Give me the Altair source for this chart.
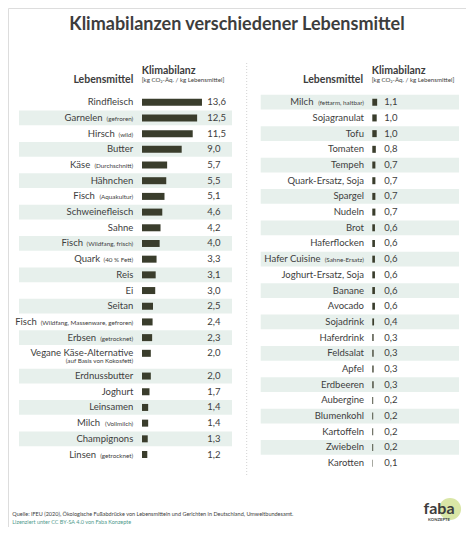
import altair as alt
import pandas as pd

# ---------------- data ----------------
left_names = ["Rindfleisch", "Garnelen", "Hirsch", "Butter", "Käse", "Hähnchen", "Fisch",
              "Schweinefleisch", "Sahne", "Fisch", "Quark", "Reis", "Ei", "Seitan", "Fisch",
              "Erbsen", "Vegane Käse-Alternative", "Erdnussbutter", "Joghurt", "Leinsamen",
              "Milch", "Champignons", "Linsen"]
left_notes = ["", "(gefroren)", "(wild)", "", "(Durchschnitt)", "", "(Aquakultur)", "", "",
              "(Wildfang, frisch)", "(40 % Fett)", "", "", "", "(Wildfang, Massenware, gefroren)",
              "(getrocknet)", "(auf Basis von Kokosfett)", "", "", "", "(Vollmilch)", "",
              "(getrocknet)"]
left_values = [13.6, 12.5, 11.5, 9.0, 5.7, 5.5, 5.1, 4.6, 4.2, 4.0, 3.3, 3.1, 3.0, 2.5, 2.4,
               2.3, 2.0, 2.0, 1.7, 1.4, 1.4, 1.3, 1.2]

right_names = ["Milch", "Sojagranulat", "Tofu", "Tomaten", "Tempeh", "Quark-Ersatz, Soja",
               "Spargel", "Nudeln", "Brot", "Haferflocken", "Hafer Cuisine",
               "Joghurt-Ersatz, Soja", "Banane", "Avocado", "Sojadrink", "Haferdrink",
               "Feldsalat", "Apfel", "Erdbeeren", "Aubergine", "Blumenkohl", "Kartoffeln",
               "Zwiebeln", "Karotten"]
right_notes = ["(fettarm, haltbar)", "", "", "", "", "", "", "", "", "", "(Sahne-Ersatz)",
               "", "", "", "", "", "", "", "", "", "", "", "", ""]
right_values = [1.1, 1.0, 1.0, 0.8, 0.7, 0.7, 0.7, 0.7, 0.6, 0.6, 0.6, 0.6, 0.6, 0.6, 0.4,
                0.3, 0.3, 0.3, 0.3, 0.2, 0.2, 0.2, 0.2, 0.1]

two_line_items = ["Vegane Käse-Alternative"]

title_text = "Klimabilanzen verschiedener Lebensmittel"
col_food = "Lebensmittel"
col_value = "Klimabilanz"
col_unit = "[kg CO₂-Äq. / kg Lebensmittel]"
source_text = ("Quelle: IFEU (2020), Ökologische Fußabdrücke von Lebensmitteln und Gerichten "
               "in Deutschland, Umweltbundesamt.")
licence_text = "Lizenziert unter CC BY-SA 4.0 von Faba Konzepte"

# ---------------- styles ----------------
FONT = "Lato"
TXT = "#3d3d3d"
BAR = "#3a3d2c"
STRIPE = "#e7f0ec"
TEAL = "#4f9a8c"
W, H = 458, 519
PX_PER_UNIT = 4.41
NOTE_SIZE = 6.3

# approximate Lato advance widths (em) used to measure the small notes
_EM = {"(": .30, ")": .30, ",": .23, " ": .20, "%": .73, "-": .33, "a": .49, "b": .55,
       "c": .45, "d": .55, "e": .51, "f": .31, "g": .49, "h": .55, "i": .24, "j": .24,
       "k": .50, "l": .24, "m": .83, "n": .55, "o": .55, "p": .55, "q": .55, "r": .36,
       "s": .42, "t": .35, "u": .55, "v": .49, "w": .75, "x": .48, "y": .49, "z": .44,
       "W": .98, "M": .83, "F": .52, "D": .70, "A": .66, "V": .66, "S": .50, "B": .62}


def text_width(s, size):
    return sum(_EM.get(ch, 0.58) for ch in s) * size * 1.04


def build(names, notes, values, stripe_parity):
    rows, extra = [], 0.0
    for i, (n, note, v) in enumerate(zip(names, notes, values)):
        below = n in two_line_items
        pos = i + extra
        rows.append(dict(
            name=n,
            note_in="" if below else note,
            note_below=note if below else "",
            v=v,
            lab=f"{v:.1f}".replace(".", ","),
            pos=pos, top=pos - 0.47, bot=pos + 0.47, pos2=pos + 0.52,
            stripe=(i % 2 == stripe_parity),
            pw=(text_width(note, NOTE_SIZE) + 3) if (note and not below) else 0.0,
        ))
        if below:
            extra += 0.45
    return pd.DataFrame(rows)


left_df = build(left_names, left_notes, left_values, 1)
right_df = build(right_names, right_notes, right_values, 0)

yscale = alt.Scale(domain=[-91 / 16, -91 / 16 + H / 16], reverse=True, nice=False, zero=False)
Y = alt.Y("pos:Q", scale=yscale, axis=None)


def panel(df, stripe_x0, stripe_x1, zero_px, label_x, value_x):
    lo = -zero_px / PX_PER_UNIT
    hi = lo + W / PX_PER_UNIT
    xs = alt.Scale(domain=[lo, hi], nice=False, zero=False)
    base = alt.Chart(df)
    stripes = base.transform_filter("datum.stripe").mark_rect(color=STRIPE).encode(
        x=alt.value(stripe_x0), x2=alt.value(stripe_x1),
        y=alt.Y("top:Q", scale=yscale, axis=None), y2="bot:Q")
    bars = base.mark_bar(color=BAR, orient="horizontal", size=7).encode(
        x=alt.X("v:Q", scale=xs, axis=None, stack=None), y=Y)
    names = base.mark_text(align="right", baseline="middle", font=FONT, fontSize=9.5,
                           color=TXT, dx=alt.ExprRef("-datum.pw")).encode(
        x=alt.value(label_x), y=Y, text="name:N")
    notes = base.transform_filter("datum.note_in != ''").mark_text(
        align="right", baseline="middle", font=FONT, fontSize=NOTE_SIZE, color=TXT, dy=1).encode(
        x=alt.value(label_x), y=Y, text="note_in:N")
    notes2 = base.transform_filter("datum.note_below != ''").mark_text(
        align="right", baseline="middle", font=FONT, fontSize=NOTE_SIZE, color=TXT).encode(
        x=alt.value(label_x), y=alt.Y("pos2:Q", scale=yscale, axis=None), text="note_below:N")
    vals = base.mark_text(align="left", baseline="middle", font=FONT, fontSize=9.5,
                          color=TXT).encode(x=alt.value(value_x), y=Y, text="lab:N")
    return [stripes, bars, names, notes, notes2, vals]


one = pd.DataFrame({"k": [0]})


def txt(s, x, y, size, weight="normal", align="left", color=TXT):
    return alt.Chart(one).mark_text(text=s, align=align, baseline="alphabetic", font=FONT,
                                    fontSize=size, fontWeight=weight, color=color).encode(
        x=alt.value(x), y=alt.value(y))


left_layers = panel(left_df, 11, 224, 134.0, 125.3, 199.3)
right_layers = panel(right_df, 252.7, 451, 364.3, 356, 376.3)

headers = [
    txt(title_text, 229, 22, 18, "bold", "center"),
    txt(col_food, 125.3, 75, 10.5, "bold", "right"),
    txt(col_value, 133.7, 66, 10.5, "bold"),
    txt(col_unit, 133.7, 74.3, 6.2),
    txt(col_food, 355, 75, 10.5, "bold", "right"),
    txt(col_value, 363.7, 66, 10.5, "bold"),
    txt(col_unit, 363.7, 74.3, 6.2),
    txt(source_text, 4.3, 508, 5.5),
    txt(licence_text, 4.3, 516, 5.5, color=TEAL),
]

divider = alt.Chart(one).mark_rule(color="#d2d2d2", strokeDash=[1, 2], strokeWidth=1).encode(
    x=alt.value(238.7), y=alt.value(55), y2=alt.value(468))

logo = [
    alt.Chart(one).mark_circle(color="#d9e6a6", opacity=1, size=490).encode(
        x=alt.value(442), y=alt.value(501)),
    txt("faba", 431, 506, 16, "bold", "center"),
    txt("KONZEPTE", 431, 512.7, 4.2, "bold", "center"),
]

chart = alt.layer(*left_layers, *right_layers, divider, *headers, *logo).resolve_scale(
    x="independent"
).properties(
    width=W, height=H, padding=0, autosize=alt.AutoSizeParams(type="none")
).configure_view(stroke=None).configure(background="white")

chart.save("out.html", embed_options={"renderer": "svg", "actions": False})
